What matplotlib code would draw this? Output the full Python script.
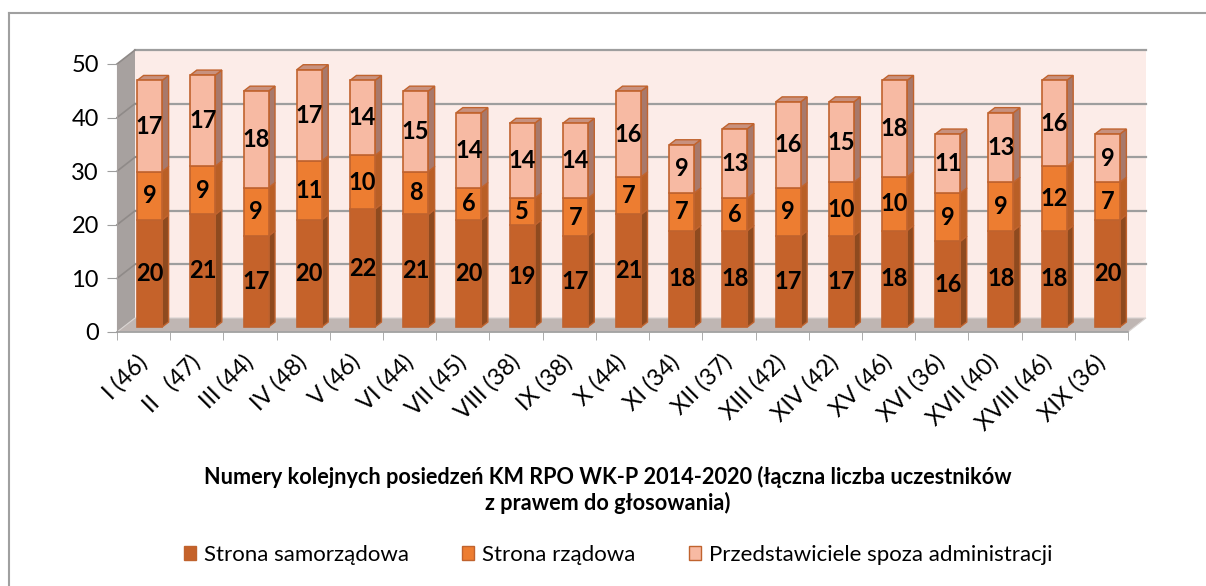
import matplotlib
matplotlib.use('Agg')
import matplotlib.pyplot as plt
from matplotlib.patches import Polygon, Rectangle, Patch
from matplotlib.lines import Line2D

# data
categories = ['I (46)', 'II   (47)', 'III (44)', 'IV (48)', 'V (46)', 'VI (44)', 'VII (45)',
              'VIII (38)', 'IX (38)', 'X (44)', 'XI (34)', 'XII (37)', 'XIII (42)', 'XIV (42)',
              'XV (46)', 'XVI (36)', 'XVII (40)', 'XVIII (46)', 'XIX (36)']
samorzadowa = [20, 21, 17, 20, 22, 21, 20, 19, 17, 21, 18, 18, 17, 17, 18, 16, 18, 18, 20]
rzadowa = [9, 9, 9, 11, 10, 8, 6, 5, 7, 7, 7, 6, 9, 10, 10, 9, 9, 12, 7]
spoza = [17, 17, 18, 17, 14, 15, 14, 14, 14, 16, 9, 13, 16, 15, 18, 11, 13, 16, 9]
series_names = ['Strona samorządowa', 'Strona rządowa', 'Przedstawiciele spoza administracji']
y_ticks = [0, 10, 20, 30, 40, 50]
x_title = 'Numery kolejnych posiedzeń KM RPO WK-P 2014-2020 (łączna liczba uczestników\nz prawem do głosowania)'

plt.rcParams['font.family'] = ['Lato', 'DejaVu Sans']

# colours: front, side, top
front_cols = ['#C5622A', '#ED7D31', '#F7BAA3']
side_cols = ['#8E4A1F', '#B95F26', '#A8796B']
top_col = '#C8917E'
edge_col = '#C0632E'
grid_col = '#9E9E9E'

FW, FH = 1206, 586
fig = plt.figure(figsize=(FW / 100, FH / 100), dpi=100)
ax = fig.add_axes([117 / FW, (FH - 332) / FH, 1011 / FW, 268 / FH])
n = len(categories)
ax.set_xlim(-0.5, n - 0.5)
ax.set_ylim(0, 50)

px_x = 1011 / n
px_y = 268 / 50
wdx, wdy = 18 / px_x, 14 / px_y      # wall depth
fdx, fdy = 6 / px_x, 5 / px_y        # bar front offset
ddx, ddy = 6.5 / px_x, 5 / px_y      # bar depth
bw = 25 / px_x

x0, x1 = -0.5, n - 0.5
# back wall
ax.add_patch(Rectangle((x0 + wdx, wdy), n, 50, facecolor='#FCECE8', edgecolor='none',
                       zorder=0, clip_on=False))
# side wall
ax.add_patch(Polygon([(x0, 0), (x0 + wdx, wdy), (x0 + wdx, 50 + wdy), (x0, 50)],
                     facecolor='#A7A19F', edgecolor='none', zorder=0.5, clip_on=False))
for v in y_ticks[1:]:
    ax.plot([x0 + wdx, x1 + wdx], [v + wdy, v + wdy], color=grid_col, lw=1.6, zorder=1, clip_on=False)
    ax.plot([x0, x0 + wdx], [v, v + wdy], color='#8F8A88', lw=1.2, zorder=1, clip_on=False)
# floor
ax.add_patch(Polygon([(x0, 0), (x1, 0), (x1 + wdx, wdy), (x0 + wdx, wdy)],
                     facecolor='#BFB6B3', edgecolor='#D9D4D2', lw=0.8, zorder=1.5, clip_on=False))

# stacked bars with a fake 3d look
xs = list(range(n))
bottoms = [0] * n
all_series = [samorzadowa, rzadowa, spoza]
for k, vals in enumerate(all_series):
    bars = ax.bar([x + fdx for x in xs], vals, bw, bottom=[b + fdy for b in bottoms],
                  color=front_cols[k], edgecolor=edge_col, linewidth=1.2, zorder=3)
    for i, bar in enumerate(bars):
        xl = bar.get_x()
        xr = xl + bar.get_width()
        b = bar.get_y()
        t = b + bar.get_height()
        ax.add_patch(Polygon([(xr, b), (xr + ddx, b + ddy), (xr + ddx, t + ddy), (xr, t)],
                             facecolor=side_cols[k], edgecolor=edge_col, lw=1.0, zorder=2.9,
                             clip_on=False))
        if k == len(all_series) - 1:
            ax.add_patch(Polygon([(xl, t), (xr, t), (xr + ddx, t + ddy), (xl + ddx, t + ddy)],
                                 facecolor=top_col, edgecolor=edge_col, lw=1.0, zorder=2.9,
                                 clip_on=False))
        ax.text(xl + bar.get_width() / 2, b + vals[i] / 2, str(vals[i]), ha='center', va='center',
                fontsize=17, fontweight='bold', color='black', zorder=5)
    bottoms = [b + v for b, v in zip(bottoms, vals)]

# axes styling
for s in ['top', 'right']:
    ax.spines[s].set_visible(False)
ax.spines['left'].set_color('#A7A19F')
ax.spines['bottom'].set_color(grid_col)
ax.spines['bottom'].set_linewidth(1.2)
ax.set_yticks(y_ticks)
ax.tick_params(axis='y', direction='out', length=7, color=grid_col, labelsize=17, pad=6)
ax.set_xticks(xs)
ax.set_xticks([x - 0.5 for x in xs] + [n - 0.5], minor=True)
ax.set_xticklabels(categories, rotation=45, ha='right', va='center', rotation_mode='anchor',
                   fontsize=17)
ax.tick_params(axis='x', which='major', length=0, pad=19)
ax.tick_params(axis='x', which='minor', length=6, color=grid_col)

fig.text(608 / FW, 1 - 490 / FH, x_title, ha='center', va='center', fontsize=15.6,
         fontweight='bold', linespacing=1.25)

handles = [Patch(facecolor=front_cols[k], edgecolor=edge_col, label=series_names[k]) for k in range(3)]
fig.legend(handles=handles, loc='center', bbox_to_anchor=(618 / FW, 1 - 555 / FH), ncol=3,
           frameon=False, fontsize=16, handlelength=0.55, handleheight=0.55, handletextpad=0.35,
           columnspacing=2.4)

# chart area border (cut at right and bottom as in the reference)
fig.add_artist(Line2D([9 / FW, 1.0], [1 - 13 / FH, 1 - 13 / FH], color='#A0A0A0', lw=1.5))
fig.add_artist(Line2D([9 / FW, 9 / FW], [1 - 13 / FH, 0.0], color='#A0A0A0', lw=1.5))

fig.savefig('out.png', dpi=100)
